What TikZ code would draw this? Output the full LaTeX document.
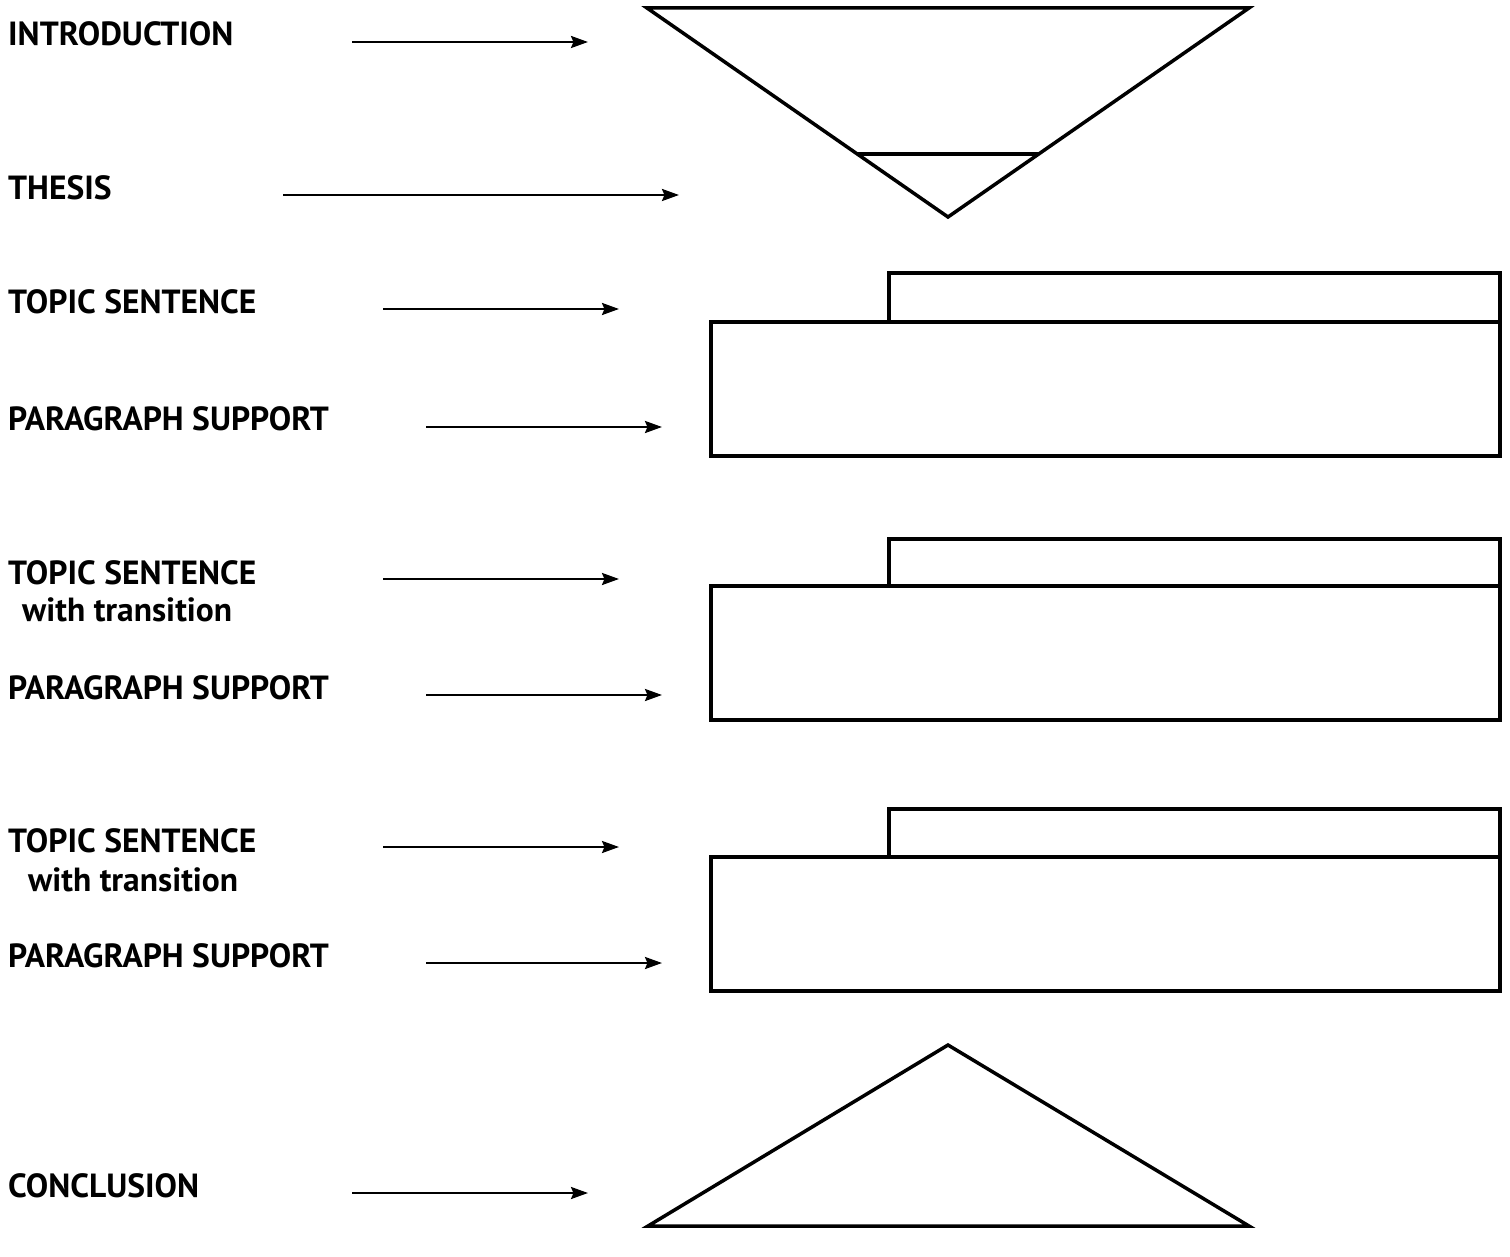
\documentclass[tikz,border=0pt]{standalone}
\usepackage{fontspec}
\setmainfont{PT Sans}
\usetikzlibrary{arrows.meta}
\begin{document}
\begin{tikzpicture}[x=1pt,y=-1pt,
  shape line/.style={line width=3.5pt,line join=miter},
  lbl/.style={anchor=base west,inner sep=0pt,font=\fontsize{33.5}{38}\selectfont\bfseries},
  pointer/.style={line width=2.4pt,-{Stealth[length=17pt,width=12pt,inset=2.5pt]}}]
\useasboundingbox (0,0) rectangle (1510,1257);
% shapes
\draw[shape line] (647,8) -- (1249,8) -- (948,217) -- cycle;
\draw[shape line] (857,154) -- (1039,154);
\foreach \t/\m in {273/322,539/586,809/857}{
  \draw[shape line] (889,\m) -- (889,\t) -- (1500,\t) -- (1500,\m);
  \draw[shape line] (711,\m) rectangle (1500,\m+134);
}
\draw[shape line] (948,1045) -- (1249,1226) -- (648,1226) -- cycle;
% labels
\node[lbl] (intro) at (8,46) {INTRODUCTION};
\node[lbl] (thesis) at (8,200) {THESIS};
\node[lbl] (ts1) at (8,314) {TOPIC SENTENCE};
\node[lbl] (ps1) at (8,430) {PARAGRAPH SUPPORT};
\node[lbl] (ts2) at (8,584) {TOPIC SENTENCE};
\node[lbl] (wt2) at (22,621) {with transition};
\node[lbl] (ps2) at (8,699) {PARAGRAPH SUPPORT};
\node[lbl] (ts3) at (8,852) {TOPIC SENTENCE};
\node[lbl] (wt3) at (28,891) {with transition};
\node[lbl] (ps3) at (8,967) {PARAGRAPH SUPPORT};
\node[lbl] (concl) at (8,1197) {CONCLUSION};
% arrow end points
\foreach \n/\a/\b/\y in {a/352/588/42, b/283/679/195, c/383/619/309, d/426/662/427,
  e/383/619/579, f/426/662/695, g/383/619/847, h/426/662/963, i/352/588/1193}{
  \coordinate (\n s) at (\a,\y);
  \coordinate (\n e) at (\b,\y);
  \draw[pointer] (\n s) -- (\n e);
}
\end{tikzpicture}
\end{document}
